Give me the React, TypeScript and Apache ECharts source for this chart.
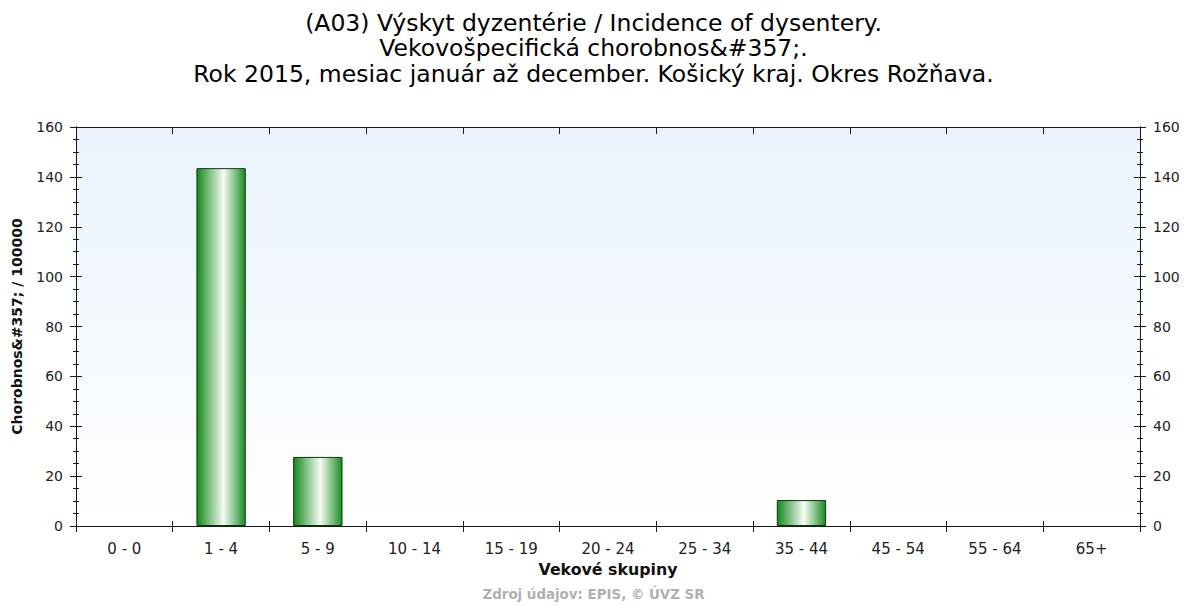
import React, { useEffect, useRef } from "react";
import * as echarts from "echarts";

const titleLines = [
  "(A03) Výskyt dyzentérie / Incidence of dysentery.",
  "Vekovošpecifická chorobnos&#357;.",
  "Rok 2015, mesiac január až december. Košický kraj. Okres Rožňava.",
];
const categories = ["0 - 0", "1 - 4", "5 - 9", "10 - 14", "15 - 19", "20 - 24", "25 - 34", "35 - 44", "45 - 54", "55 - 64", "65+"];
const values = [0, 143.5, 27.7, 0, 0, 0, 0, 10.4, 0, 0, 0];
const yAxisName = "Chorobnos&#357; / 100000";
const xAxisName = "Vekové skupiny";
const sourceText = "Zdroj údajov: EPIS, © ÚVZ SR";

const FONT = "'DejaVu Sans', Verdana, sans-serif";
const AX = "#1a1a1a";

export default function App() {
  const ref = useRef<HTMLDivElement>(null);
  useEffect(() => {
    if (!ref.current) return;
    const chart = echarts.init(ref.current, undefined, { renderer: "svg" });
    const yBase = (pos: "left" | "right", inside: boolean, labels: boolean, name: boolean) => ({
      type: "value",
      position: pos,
      min: 0,
      max: 160,
      interval: 20,
      name: name ? yAxisName : "",
      nameLocation: "middle",
      nameGap: 52,
      nameTextStyle: { fontFamily: FONT, fontSize: 14, fontWeight: "bold", color: "#111" },
      axisLine: { show: true, lineStyle: { color: AX, width: 1 } },
      axisTick: { show: true, inside, length: 6, lineStyle: { color: AX } },
      minorTick: { show: true, splitNumber: 4, length: 3, lineStyle: { color: AX } },
      splitLine: { show: false },
      axisLabel: { show: labels, margin: 13, fontFamily: FONT, fontSize: 14, color: "#222" },
    });
    const xBase = (pos: "top" | "bottom", inside: boolean, labels: boolean, name: boolean, len: number) => ({
      type: "category",
      position: pos,
      data: categories,
      boundaryGap: true,
      name: name ? xAxisName : "",
      nameLocation: "middle",
      nameGap: 35,
      nameTextStyle: { fontFamily: FONT, fontSize: 15.8, fontWeight: "bold", color: "#111" },
      axisLine: { show: true, onZero: false, lineStyle: { color: AX, width: 1 } },
      axisTick: { show: true, inside, length: len, interval: 0, lineStyle: { color: AX } },
      splitLine: { show: false },
      axisLabel: { show: labels, interval: 0, margin: 15, fontFamily: FONT, fontSize: 15, color: "#222" },
    });
    chart.setOption({
      animation: false,
      backgroundColor: "#ffffff",
      title: {
        text: titleLines.join("\n"),
        left: "center",
        top: 5,
        textStyle: { fontFamily: FONT, fontSize: 23.5, fontWeight: "normal", color: "#000", lineHeight: 25.5 },
      },
      graphic: [
        {
          type: "text",
          left: "center",
          top: 588,
          style: { text: sourceText, fontFamily: FONT, fontSize: 13.4, fontWeight: "bold", fill: "#b0b0b0" },
        },
      ],
      grid: {
        left: 76,
        right: 47,
        top: 127,
        bottom: 80,
        show: true,
        borderWidth: 0,
        backgroundColor: {
          type: "linear",
          x: 0, y: 0, x2: 0, y2: 1,
          colorStops: [
            { offset: 0, color: "#eaf3fd" },
            { offset: 1, color: "#ffffff" },
          ],
        },
      },
      xAxis: [
        xBase("bottom", false, true, true, 6),
        xBase("bottom", true, false, false, 5),
        xBase("top", true, false, false, 7),
      ],
      yAxis: [
        yBase("left", false, true, true),
        yBase("left", true, false, false),
        yBase("right", false, true, false),
        yBase("right", true, false, false),
      ],
      series: [
        {
          type: "bar",
          xAxisIndex: 0,
          yAxisIndex: 0,
          data: values.map((v) => (v === 0 ? "-" : v)),
          barWidth: "51%",
          itemStyle: {
            borderColor: "#0b3a0b",
            borderWidth: 1,
            color: {
              type: "linear",
              x: 0, y: 0, x2: 1, y2: 0,
              colorStops: [
                { offset: 0, color: "#15881c" },
                { offset: 0.55, color: "#f6fcf6" },
                { offset: 1, color: "#1a8c22" },
              ],
            },
          },
        },
      ],
    });
    return () => chart.dispose();
  }, []);
  return (
    <div
      ref={ref}
      style={{ position: "fixed", left: 0, top: 0, width: 1187, height: 606 }}
    />
  );
}
